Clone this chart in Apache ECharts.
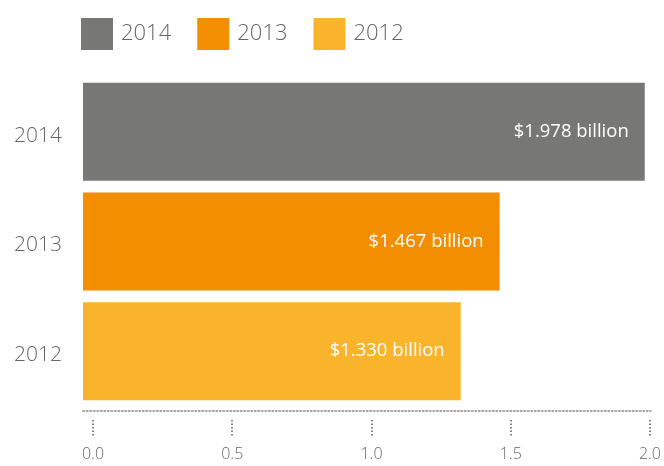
<!DOCTYPE html>
<html><head><meta charset="utf-8">
<script src="https://cdn.jsdelivr.net/npm/echarts@6/dist/echarts.min.js"></script>
<style>html,body{margin:0;padding:0;background:#fff}#c{width:664px;height:466px}</style>
</head><body><div id="c"></div>
<script>
const categories = ['2012', '2013', '2014'];
const seriesNames = ['2014', '2013', '2012'];
const values = { '2014': 1.978, '2013': 1.467, '2012': 1.330 };
const labels = { '2014': '$1.978 billion', '2013': '$1.467 billion', '2012': '$1.330 billion' };
const colors = { '2014': '#777776', '2013': '#F28E00', '2012': '#F9B42B' };
const tickLabels = ['0.0', '0.5', '1.0', '1.5', '2.0'];

const FONT = '"Open Sans", "Noto Sans", sans-serif';
const chart = echarts.init(document.getElementById('c'), null, { renderer: 'canvas' });
const series = seriesNames.map(name => ({
  name: name,
  type: 'bar',
  stack: 'all',
  barWidth: 98,
  itemStyle: { color: colors[name] },
  label: {
    show: true, position: 'insideRight', distance: 16,
    color: '#fff', fontSize: 18.5, fontFamily: FONT, padding: [3, 0, 0, 0],
    formatter: () => labels[name]
  },
  data: categories.map(c => c === name ? values[name] : null)
}));
series.push({ type: 'bar', xAxisIndex: 1, yAxisIndex: 1, data: [], silent: true });

chart.setOption({
  animation: false,
  legend: {
    left: 76, top: 13, itemWidth: 32, itemHeight: 32, itemGap: 26,
    icon: 'rect',
    textStyle: { fontSize: 22, color: '#666', fontFamily: FONT, fontWeight: 300, padding: [0, 0, 0, 3] },
    data: seriesNames
  },
  grid: [
    { left: 83, right: 13, top: 77, bottom: 60 },
    { left: 93, right: 10, top: 77, bottom: 60 }
  ],
  xAxis: [
    { type: 'value', gridIndex: 0, min: 0, max: 2, interval: 0.5,
      axisLine: { show: true, onZero: false, lineStyle: { color: '#888', type: [1.5, 2], width: 1.5 } },
      offset: 5,
      axisTick: { show: false }, axisLabel: { show: false }, splitLine: { show: false } },
    { type: 'value', gridIndex: 1, min: 0, max: 2, interval: 0.5, offset: 14,
      axisLine: { show: false },
      axisTick: { show: true, length: 16, lineStyle: { color: '#555', type: [1.5, 2], width: 1.5 } },
      axisLabel: { show: true, margin: 26, fontSize: 16, color: '#666', fontFamily: FONT, fontWeight: 300,
        formatter: v => tickLabels[Math.round(v / 0.5)] },
      splitLine: { show: false } }
  ],
  yAxis: [
    { type: 'category', gridIndex: 0, data: categories,
      axisLine: { show: false }, axisTick: { show: false },
      axisLabel: { margin: 21, fontSize: 21, color: '#666', fontFamily: FONT, fontWeight: 300,
        verticalAlign: 'top', lineHeight: 8 } },
    { type: 'category', gridIndex: 1, data: categories, show: false }
  ],
  series: series
});
</script></body></html>
